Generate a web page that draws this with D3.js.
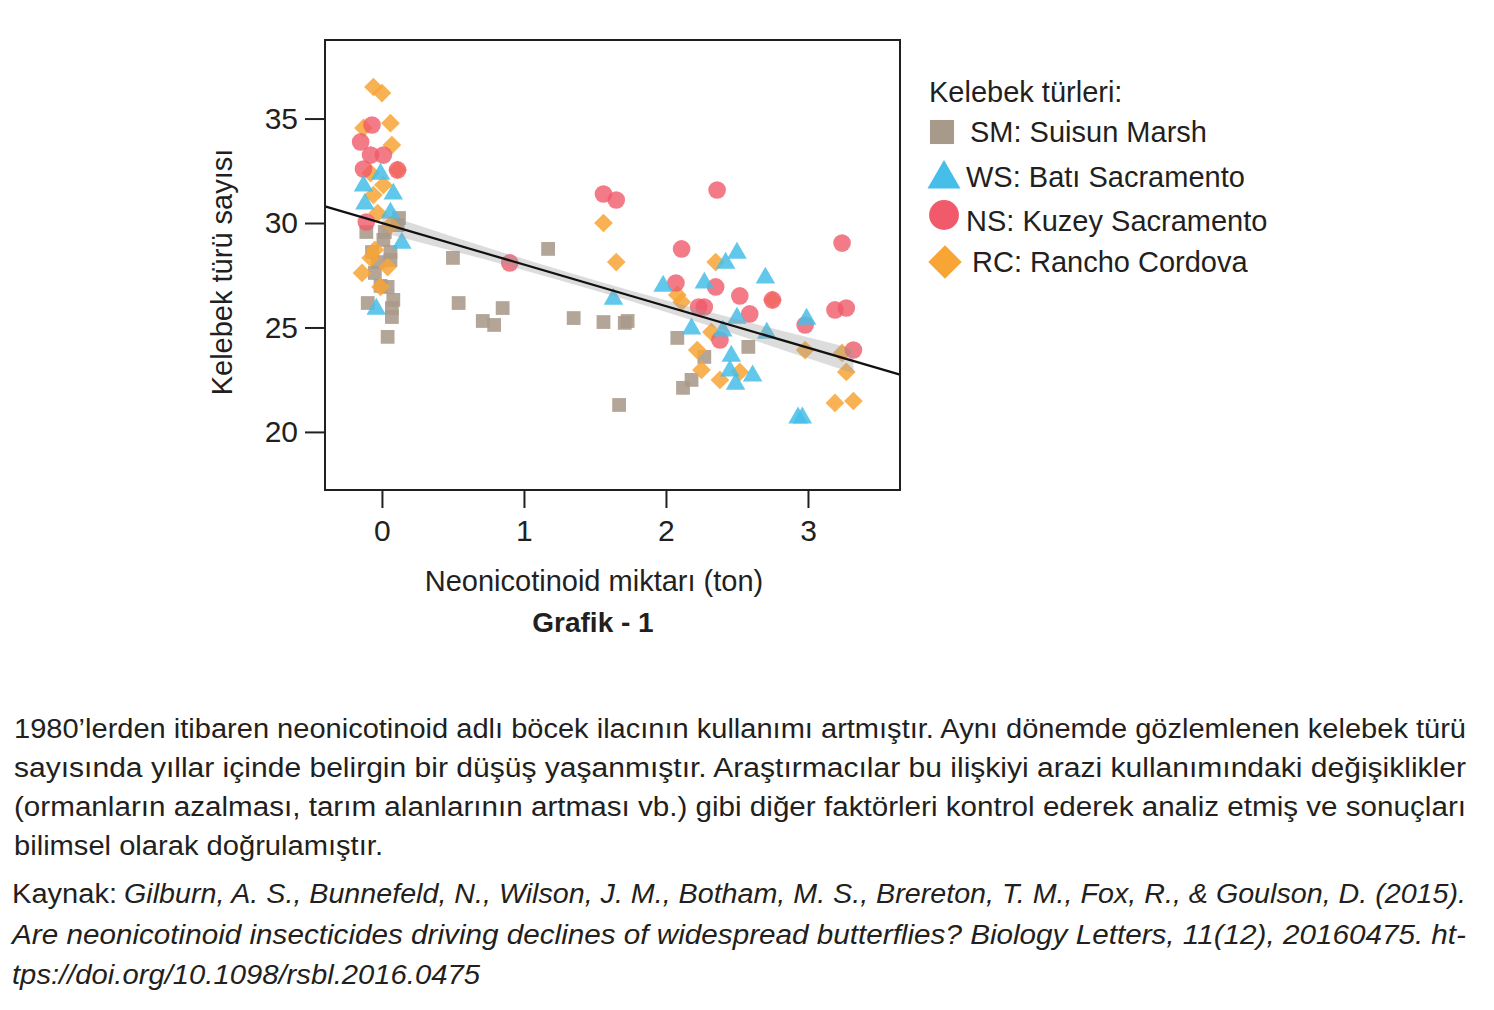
<!DOCTYPE html>
<html><head><meta charset="utf-8">
<script src="https://cdn.jsdelivr.net/npm/d3@7"></script>
<style>body{margin:0;background:#fff}svg{display:block}</style>
</head><body>
<script>
// ---- data ----
const smX = [-0.11,0.02,0.11,0.12,-0.07,0.06,-0.03,0.06,-0.05,0.04,-0.01,-0.10,0.08,0.07,0.07,0.04,0.01,
             0.50,1.17,0.54,0.85,0.71,0.79,1.35,1.56,1.71,1.73,1.67,2.08,2.27,2.18,2.12,2.58];
const smY = [29.57,29.57,29.90,30.24,28.61,28.61,28.13,28.23,27.61,26.94,26.99,26.17,26.32,25.93,25.50,24.55,29.19,
             28.33,28.76,26.17,25.93,25.31,25.12,25.45,25.26,25.22,25.31,21.29,24.50,23.59,22.49,22.11,24.07];
const wsX = [-0.01,-0.13,0.08,-0.12,0.06,0.14,-0.04,1.63,1.98,2.27,2.42,2.50,2.70,2.50,2.18,2.71,2.40,2.46,2.45,2.61,2.49,2.99,2.93,2.96];
const wsY = [32.39,31.82,31.44,30.96,30.53,29.09,25.93,26.41,27.03,27.18,28.13,28.61,27.42,25.50,24.98,24.78,24.88,23.68,22.97,22.73,22.34,25.45,20.72,20.72];
const nsX = [-0.07,-0.15,-0.08,0.01,-0.13,0.11,-0.11,0.90,1.56,1.65,2.11,2.36,2.07,2.35,2.52,2.23,2.27,2.59,2.38,2.75,3.24,2.98,3.19,3.27,3.32];
const nsY = [34.69,33.88,33.25,33.25,32.58,32.54,30.05,28.09,31.39,31.10,28.76,31.58,27.13,26.94,26.51,25.98,25.98,25.65,24.40,26.32,29.04,25.12,25.84,25.93,23.92];
const rcX = [-0.06,0.00,0.06,-0.13,0.07,-0.08,0.01,-0.06,-0.03,0.06,-0.05,-0.08,-0.14,-0.01,0.04,0.11,
             1.56,1.65,2.35,2.08,2.11,2.32,2.22,2.25,2.38,2.52,2.75,2.98,3.24,3.27,3.19,3.32];
const rcY = [36.51,36.22,34.78,34.55,33.73,32.39,31.82,31.34,30.48,29.90,28.71,28.33,27.61,26.94,27.89,32.54,
             30.00,28.13,28.13,26.56,26.22,24.78,23.92,22.97,22.49,22.87,26.32,23.92,23.78,22.87,21.39,21.48];
const fitIntercept = 30.0, fitSlope = -1.99;
const ciX = [0, 0.5, 1, 1.5, 2, 2.5, 3, 3.32];
const ciHalf = [0.45, 0.34, 0.27, 0.25, 0.28, 0.37, 0.50, 0.58];
const xTicks = [0,1,2,3];
const yTicks = [20,25,30,35];
const seriesNames = ["SM: Suisun Marsh","WS: Batı Sacramento","NS: Kuzey Sacramento","RC: Rancho Cordova"];
const legendTitle = "Kelebek türleri:";
const xTitle = "Neonicotinoid miktarı (ton)";
const yTitle = "Kelebek türü sayısı";
const chartCaption = "Grafik - 1";
const bodyLines = [
 "1980’lerden itibaren neonicotinoid adlı böcek ilacının kullanımı artmıştır. Aynı dönemde gözlemlenen kelebek türü",
 "sayısında yıllar içinde belirgin bir düşüş yaşanmıştır. Araştırmacılar bu ilişkiyi arazi kullanımındaki değişiklikler",
 "(ormanların azalması, tarım alanlarının artması vb.) gibi diğer faktörleri kontrol ederek analiz etmiş ve sonuçları",
 "bilimsel olarak doğrulamıştır."];
const sourceLabel = "Kaynak:";
const sourceLines = [
 "Gilburn, A. S., Bunnefeld, N., Wilson, J. M., Botham, M. S., Brereton, T. M., Fox, R., & Goulson, D. (2015).",
 "Are neonicotinoid insecticides driving declines of widespread butterflies? Biology Letters, 11(12), 20160475. ht-",
 "tps://doi.org/10.1098/rsbl.2016.0475"];

// ---- drawing ----
const W = 1494, H = 1010;
const ink = "#231f20";
const font = "'Liberation Sans', Arial, Helvetica, sans-serif";
const svg = d3.select("body").append("svg").attr("width", W).attr("height", H)
  .style("font-family", font);

const x = d3.scaleLinear().domain([-0.401, 3.648]).range([325, 900]);
const y = d3.scaleLinear().domain([17.22, 38.76]).range([490, 40]);

const colors = {SM:"#a89a8a", WS:"#45bee9", NS:"#f05a6a", RC:"#f8a535"};

function pts(xs, ys){ return xs.map((v,i)=>({x:v, y:ys[i]})); }

const g = svg.append("g");
const sq = d3.symbol().type(d3.symbolSquare).size(190);
const tri = d3.symbol().type(d3.symbolTriangle).size(165);
const circ = d3.symbol().type(d3.symbolCircle).size(245);
const dia = d3.symbol().type(d3.symbolSquare).size(175);

g.selectAll(".sm").data(pts(smX, smY)).join("path").attr("d", sq)
  .attr("transform", d=>`translate(${x(d.x)},${y(d.y)})`).attr("fill", colors.SM).attr("opacity", 0.88);
g.selectAll(".rc").data(pts(rcX, rcY)).join("path").attr("d", dia)
  .attr("transform", d=>`translate(${x(d.x)},${y(d.y)}) rotate(45)`).attr("fill", colors.RC).attr("opacity", 0.85);
g.selectAll(".ns").data(pts(nsX, nsY)).join("path").attr("d", circ)
  .attr("transform", d=>`translate(${x(d.x)},${y(d.y)})`).attr("fill", colors.NS).attr("opacity", 0.8);
g.selectAll(".ws").data(pts(wsX, wsY)).join("path").attr("d", tri)
  .attr("transform", d=>`translate(${x(d.x)},${y(d.y)+1})`).attr("fill", colors.WS).attr("opacity", 0.85);

// confidence band
const band = ciX.map((v,i)=>({x:v, lo: fitIntercept+fitSlope*v-ciHalf[i], hi: fitIntercept+fitSlope*v+ciHalf[i]}));
svg.append("path").datum(band)
  .attr("d", d3.area().x(d=>x(d.x)).y0(d=>y(d.lo)).y1(d=>y(d.hi)).curve(d3.curveMonotoneX))
  .attr("fill", "#9a9a9a").attr("opacity", 0.35);
// fit line
const xd = x.domain();
svg.append("line")
  .attr("x1", x(xd[0])).attr("y1", y(fitIntercept+fitSlope*xd[0]))
  .attr("x2", x(xd[1])).attr("y2", y(fitIntercept+fitSlope*xd[1]))
  .attr("stroke", "#111").attr("stroke-width", 2.2);

// frame
svg.append("rect").attr("x", 325).attr("y", 40).attr("width", 575).attr("height", 450)
  .attr("fill", "none").attr("stroke", ink).attr("stroke-width", 2);

// axes
const ya = svg.append("g").attr("transform", "translate(325,0)")
  .call(d3.axisLeft(y).tickValues(yTicks).tickFormat(d3.format("d")).tickSize(20).tickPadding(7));
const xa = svg.append("g").attr("transform", "translate(0,490)")
  .call(d3.axisBottom(x).tickValues(xTicks).tickFormat(d3.format("d")).tickSize(18).tickPadding(12));
[ya, xa].forEach(a=>{
  a.select(".domain").remove();
  a.selectAll("line").attr("stroke", ink).attr("stroke-width", 2);
  a.selectAll("text").attr("fill", ink).style("font-size", "30px").style("font-family", font);
});

svg.append("text").attr("transform", "translate(232,272) rotate(-90)").attr("text-anchor", "middle")
  .attr("fill", ink).style("font-size", "29px").text(yTitle);
svg.append("text").attr("x", 594).attr("y", 591).attr("text-anchor", "middle")
  .attr("fill", ink).style("font-size", "29px").text(xTitle);
svg.append("text").attr("x", 593).attr("y", 632).attr("text-anchor", "middle")
  .attr("fill", ink).style("font-size", "28px").style("font-weight", "bold").text(chartCaption);

// legend
const lg = svg.append("g");
lg.append("text").attr("x", 929).attr("y", 102).attr("fill", ink).style("font-size", "29px").text(legendTitle);
const legendSyms = [
  {p: d3.symbol().type(d3.symbolSquare).size(580)(), c: colors.SM, cx: 942, cy: 132, rot: 0, tx: 970},
  {p: d3.symbol().type(d3.symbolTriangle).size(470)(), c: colors.WS, cx: 944, cy: 179, rot: 0, tx: 966},
  {p: d3.symbol().type(d3.symbolCircle).size(700)(), c: colors.NS, cx: 944, cy: 215, rot: 0, tx: 966},
  {p: d3.symbol().type(d3.symbolSquare).size(560)(), c: colors.RC, cx: 945, cy: 262, rot: 45, tx: 972}
];
const textYs = [142, 187, 231, 272];
legendSyms.forEach((s,i)=>{
  lg.append("path").attr("d", s.p).attr("fill", s.c)
    .attr("transform", `translate(${s.cx},${s.cy}) rotate(${s.rot})`);
  lg.append("text").attr("x", s.tx).attr("y", textYs[i]).attr("fill", ink)
    .style("font-size", "29px").text(seriesNames[i]);
});

// body text
const bodyY = [738, 777, 816, 855];
const bodyLen = [1452, 1452, 1452, 369];
bodyLines.forEach((t,i)=>{
  svg.append("text").attr("x", 14).attr("y", bodyY[i]).attr("fill", ink)
    .attr("textLength", bodyLen[i]).attr("lengthAdjust", "spacingAndGlyphs")
    .style("font-size", "27px").text(t);
});
svg.append("text").attr("x", 12).attr("y", 903).attr("fill", ink)
  .attr("textLength", 105).attr("lengthAdjust", "spacingAndGlyphs")
  .style("font-size", "27px").text(sourceLabel);
const srcX = [124, 12, 12], srcY = [903, 944, 984], srcLen = [1342, 1454, 468];
sourceLines.forEach((t,i)=>{
  svg.append("text").attr("x", srcX[i]).attr("y", srcY[i]).attr("fill", ink)
    .attr("textLength", srcLen[i]).attr("lengthAdjust", "spacingAndGlyphs")
    .style("font-size", "27px").style("font-style", "italic").text(t);
});
</script>
</body></html>
